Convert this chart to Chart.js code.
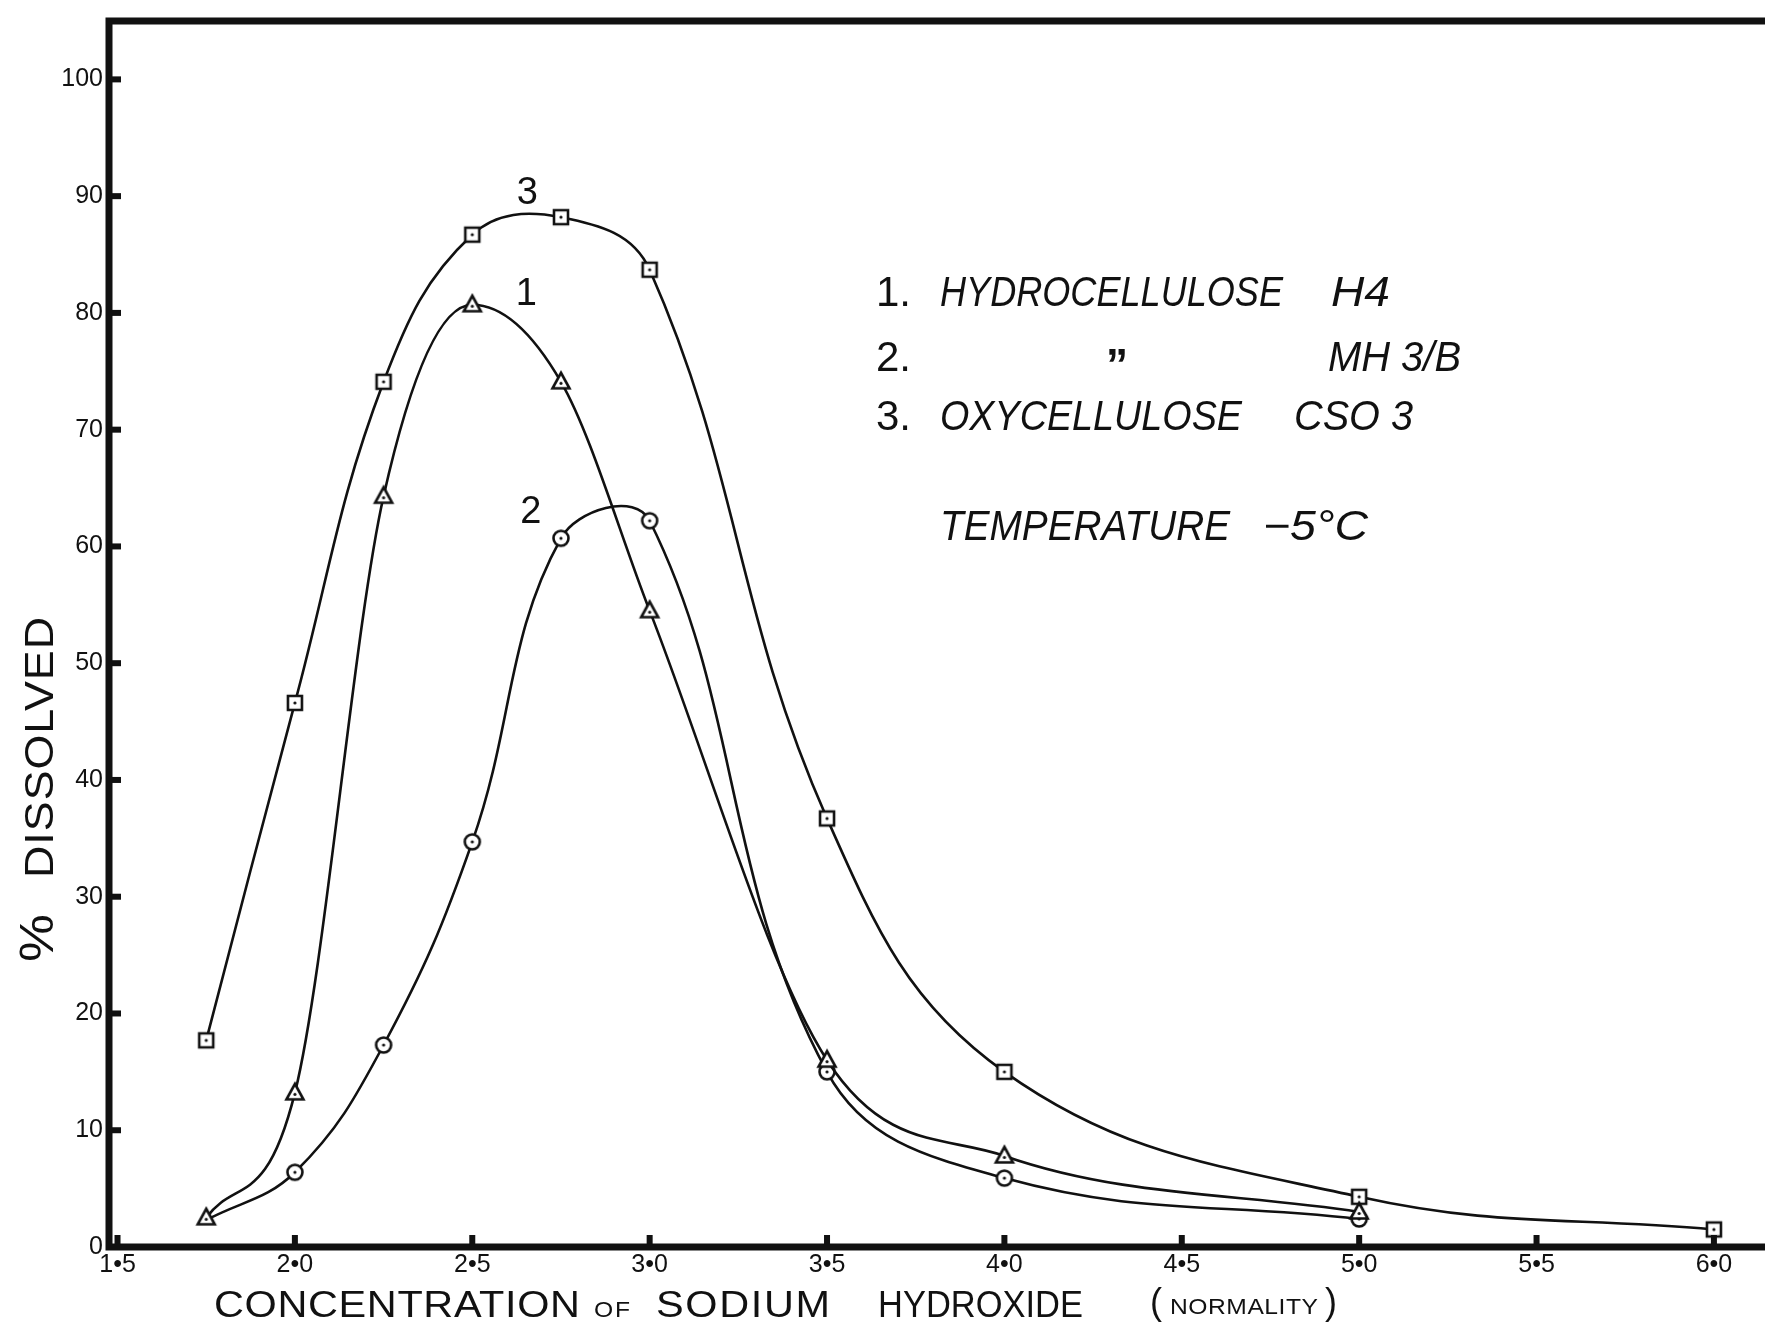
<!DOCTYPE html>
<html>
<head>
<meta charset="utf-8">
<script src="https://cdn.jsdelivr.net/npm/chart.js@4/dist/chart.umd.min.js"></script>
<style>
  html, body { margin: 0; padding: 0; background: #fff; }
  #wrap { width: 1765px; height: 1322px; }
</style>
</head>
<body>
<div id="wrap"><canvas id="solChart" width="1765" height="1322"></canvas></div>
<script>
// NaOH normality for each measurement
const concShort = [1.75, 2.0, 2.25, 2.5, 2.75, 3.0, 3.5, 4.0, 5.0];
const concLong = [1.75, 2.0, 2.25, 2.5, 2.75, 3.0, 3.5, 4.0, 5.0, 6.0];

// % dissolved
const hydroH4 = [2.5, 13.2, 64.3, 80.7, 74.1, 54.5, 16.0, 7.8, 3.0];
const hydroMH3B = [2.3, 6.4, 17.3, 34.7, 60.7, 62.2, 15.0, 5.9, 2.4];
const oxyCSO3 = [17.7, 46.6, 74.1, 86.7, 88.2, 83.7, 36.7, 15.0, 4.3, 1.5];

const xTicks = [1.5, 2.0, 2.5, 3.0, 3.5, 4.0, 4.5, 5.0, 5.5, 6.0];
const xTickLabels = ['1•5', '2•0', '2•5', '3•0', '3•5', '4•0', '4•5', '5•0', '5•5', '6•0'];
const yTicks = [0, 10, 20, 30, 40, 50, 60, 70, 80, 90, 100];

// curve numbers placed next to each curve (data coordinates)
const curveTags = [
  { text: '3', x: 2.655, y: 90.2 },
  { text: '1', x: 2.652, y: 81.6 },
  { text: '2', x: 2.665, y: 62.9 }
];

const INK = '#111';
const FONT = '"Liberation Sans", Arial, sans-serif';

function makeMarker(shape) {
  const c = document.createElement('canvas');
  c.width = 24; c.height = 24;
  const g = c.getContext('2d');
  g.fillStyle = '#fff';
  g.strokeStyle = INK;
  g.lineWidth = 2.6;
  g.beginPath();
  if (shape === 'square') g.rect(5, 5, 14, 14);
  else if (shape === 'circle') g.arc(12, 12, 7.5, 0, Math.PI * 2);
  else { g.moveTo(12, 3); g.lineTo(20.5, 18.5); g.lineTo(3.5, 18.5); g.closePath(); }
  g.fill();
  g.stroke();
  g.fillStyle = INK;
  g.beginPath();
  g.arc(12, shape === 'triangle' ? 13.5 : 12, 1.6, 0, Math.PI * 2);
  g.fill();
  return c;
}

const triMark = makeMarker('triangle');
const circMark = makeMarker('circle');
const sqMark = makeMarker('square');

function pairs(xs, ys) {
  return xs.map((x, i) => ({ x: x, y: ys[i] }));
}

// draws left-aligned text stretched or squeezed to a given width
function fitText(ctx, text, x, y, font, width) {
  ctx.font = font;
  ctx.letterSpacing = '0px';
  const w = ctx.measureText(text).width;
  if (!width) { ctx.fillText(text, x, y); return; }
  let sx = width / w;
  let extra = 0;
  if (sx > 1.12) {
    sx = 1.12;
    if (text.length > 1) extra = (width - w * sx) / (text.length - 1) / sx;
  }
  ctx.save();
  ctx.translate(x, y);
  ctx.scale(sx, 1);
  ctx.letterSpacing = extra + 'px';
  ctx.fillText(text, 0, 0);
  ctx.restore();
}

const framePlugin = {
  id: 'framePlugin',
  afterDraw(chart) {
    const ctx = chart.ctx;
    const a = chart.chartArea;
    const xs = chart.scales.x;
    const ys = chart.scales.y;
    ctx.save();

    // axes + top rule
    ctx.strokeStyle = INK;
    ctx.lineWidth = 7;
    ctx.lineJoin = 'miter';
    ctx.beginPath();
    ctx.moveTo(chart.width + 10, a.top);
    ctx.lineTo(a.left, a.top);
    ctx.lineTo(a.left, a.bottom);
    ctx.lineTo(chart.width + 10, a.bottom);
    ctx.stroke();

    // short tick stubs on the inside of the axes
    ctx.fillStyle = INK;
    ys.ticks.forEach(t => {
      const py = ys.getPixelForValue(t.value);
      ctx.fillRect(a.left + 2, py - 3, 10, 6);
    });
    xs.ticks.forEach(t => {
      const px = xs.getPixelForValue(t.value);
      ctx.fillRect(px - 3, a.bottom - 12, 6, 10);
    });

    // curve numbers
    ctx.textAlign = 'center';
    ctx.textBaseline = 'middle';
    curveTags.forEach(tag => {
      ctx.font = '38px ' + FONT;
      ctx.fillText(tag.text, xs.getPixelForValue(tag.x), ys.getPixelForValue(tag.y));
    });

    // key
    ctx.textAlign = 'left';
    ctx.textBaseline = 'alphabetic';
    const up = '42px ' + FONT;
    const it = 'italic 42px ' + FONT;
    fitText(ctx, '1.', 876, 306, up);
    fitText(ctx, 'HYDROCELLULOSE', 940, 306, it, 343);
    fitText(ctx, 'H4', 1331, 306, it, 59);
    fitText(ctx, '2.', 876, 371, up);
    fitText(ctx, '\u201D', 1106, 380, 'bold 44px ' + FONT);
    fitText(ctx, 'MH 3/B', 1328, 371, it, 133);
    fitText(ctx, '3.', 876, 430, up);
    fitText(ctx, 'OXYCELLULOSE', 940, 430, it, 302);
    fitText(ctx, 'CSO 3', 1294, 430, it, 119);
    fitText(ctx, 'TEMPERATURE', 940, 540, it, 290);
    fitText(ctx, '\u22125\u00B0C', 1263, 540, it, 105);

    // x axis title
    const big = '37px ' + FONT;
    const small = '22px ' + FONT;
    fitText(ctx, 'CONCENTRATION', 214, 1317, big, 366);
    fitText(ctx, 'OF', 594, 1317, small, 36);
    fitText(ctx, 'SODIUM', 656, 1317, big, 174);
    fitText(ctx, 'HYDROXIDE', 878, 1317, big, 205);
    fitText(ctx, '(', 1150, 1314, '36px ' + FONT);
    fitText(ctx, 'NORMALITY', 1170, 1314, small, 148);
    fitText(ctx, ')', 1325, 1314, '36px ' + FONT);

    // y axis title, reading upwards
    ctx.translate(53, 962);
    ctx.rotate(-Math.PI / 2);
    fitText(ctx, '%', 0, 0, '48px ' + FONT, 70);
    fitText(ctx, 'DISSOLVED', 84, 0, '40px ' + FONT, 261);

    ctx.restore();
  }
};

const lineStyle = {
  borderColor: INK,
  borderWidth: 2.6,
  fill: false,
  clip: false
};

new Chart(document.getElementById('solChart').getContext('2d'), {
  type: 'line',
  data: {
    datasets: [
      Object.assign({
        label: '1. Hydrocellulose H4',
        data: pairs(concShort, hydroH4),
        pointStyle: triMark,
        pointRadius: 7,
        cubicInterpolationMode: 'monotone'
      }, lineStyle),
      Object.assign({
        label: '2. Hydrocellulose MH 3/B',
        data: pairs(concShort, hydroMH3B),
        pointStyle: circMark,
        // the 1.75 N reading sits under the triangle of curve 1
        pointRadius: concShort.map((c, i) => i === 0 ? 0 : 7),
        tension: 0.4
      }, lineStyle),
      Object.assign({
        label: '3. Oxycellulose CSO 3',
        data: pairs(concLong, oxyCSO3),
        pointStyle: sqMark,
        pointRadius: 7,
        tension: 0.4
      }, lineStyle)
    ]
  },
  options: {
    responsive: false,
    animation: false,
    layout: { autoPadding: false, padding: { top: 21, right: 0, left: 0, bottom: 0 } },
    plugins: {
      legend: { display: false },
      tooltip: { enabled: false }
    },
    scales: {
      x: {
        type: 'linear',
        min: 1.476,
        max: 6.144,
        grid: { display: false, drawTicks: false },
        border: { display: false },
        afterFit: s => { s.height = 75; },
        afterBuildTicks: s => { s.ticks = xTicks.map(v => ({ value: v })); },
        ticks: {
          padding: 3,
          color: INK,
          font: { family: FONT, size: 25 },
          maxRotation: 0,
          autoSkip: false,
          callback: (v, i) => xTickLabels[i]
        }
      },
      y: {
        min: 0,
        max: 105,
        grid: { display: false, drawTicks: false },
        border: { display: false },
        afterFit: s => { s.width = 109; },
        afterBuildTicks: s => { s.ticks = yTicks.map(v => ({ value: v })); },
        ticks: {
          padding: 6,
          color: INK,
          font: { family: FONT, size: 25 },
          autoSkip: false,
          callback: v => String(v)
        }
      }
    }
  },
  plugins: [framePlugin]
});
</script>
</body>
</html>
